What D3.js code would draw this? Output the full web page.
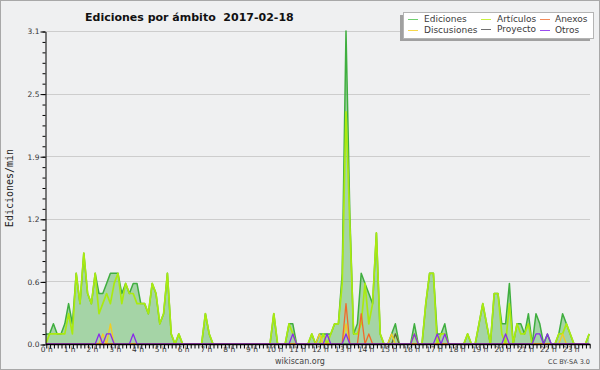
<!DOCTYPE html>
<html><head><meta charset="utf-8">
<script src="https://cdn.jsdelivr.net/npm/d3@7"></script>
<style>
html,body{margin:0;padding:0;background:#eff0f1;}
svg{display:block;font-family:"DejaVu Sans",sans-serif;}
</style>
</head><body>
<svg id="c" width="600" height="370"></svg>
<script>
const chartTitle = "Ediciones por ámbito  2017-02-18";
const yTitle = "Ediciones/min";
const footer = "wikiscan.org";
const license = "CC BY-SA 3.0";
const yTickValues = [0, 0.62, 1.24, 1.86, 2.48, 3.1];
const yTickLabels = ["0.0", "0.6", "1.2", "1.9", "2.5", "3.1"];
const hourLabels = ["0 h","1 h","2 h","3 h","4 h","5 h","6 h","7 h","8 h","9 h","10 h","11 h",
  "12 h","13 h","14 h","15 h","16 h","17 h","18 h","19 h","20 h","21 h","22 h","23 h"];
const seriesNames = ["Ediciones", "Artículos", "Anexos", "Discusiones", "Proyecto", "Otros"];

// one value per 10 minutes (6 per hour), edits/min
const ediciones = [
  0.1,0.1,0.2,0.1,0.1,0.2,  0.4,0.2,0.7,0.4,0.9,0.5,  0.4,0.7,0.5,0.5,0.6,0.7,  0.7,0.7,0.5,0.6,0.5,0.6,
  0.6,0.4,0.4,0.3,0.6,0.5,  0.2,0.3,0.7,0.1,0,0.1,    0,0,0,0,0,0,              0.3,0.1,0,0,0,0,
  0,0,0,0,0,0,              0,0,0,0,0,0,              0.3,0,0,0,0.2,0.2,        0,0,0,0,0.1,0,
  0.1,0.1,0.1,0.1,0.2,0.2,  0.7,3.1,1.3,0.1,0.2,0.7,  0.6,0.5,0.4,1.1,0.1,0,    0,0.1,0.2,0,0,0,
  0,0.2,0,0,0.4,0.7,        0.7,0.1,0.1,0.2,0,0,      0,0,0,0.1,0,0,            0.2,0.4,0.2,0,0.5,0.5,
  0.2,0.2,0.6,0,0.2,0.2,    0.1,0.3,0,0.3,0.2,0,      0.1,0,0,0.1,0.3,0.2,      0.1,0,0,0,0,0.1
];
const articulos = [
  0,0.1,0.1,0.1,0.1,0.1,    0.3,0.1,0.7,0.4,0.9,0.5,  0.4,0.7,0.3,0.4,0.5,0.4,  0.6,0.7,0.4,0.6,0.5,0.5,
  0.4,0.4,0.4,0.3,0.6,0.5,  0.2,0.3,0.7,0.1,0,0.1,    0,0,0,0,0,0,              0.3,0.1,0,0,0,0,
  0,0,0,0,0,0,              0,0,0,0,0,0,              0.3,0,0,0,0.2,0.1,        0,0,0,0,0.1,0,
  0,0.1,0,0.1,0.2,0.2,      0.6,2.3,1.2,0.1,0.1,0.2,  0.6,0.2,0.4,1.1,0.1,0,    0,0,0.1,0,0,0,
  0,0.1,0,0,0.4,0.7,        0.7,0,0.1,0.1,0,0,        0,0,0,0.1,0,0,            0.2,0.4,0.2,0,0.5,0.5,
  0.1,0,0.4,0,0.2,0.1,      0.1,0.2,0,0,0,0,          0,0,0,0.1,0.1,0.2,        0.1,0,0,0,0,0.1
];
const anexos = [
  0,0,0,0,0,0, 0,0,0,0,0,0, 0,0,0,0,0,0, 0,0,0,0,0,0,
  0,0,0,0,0,0, 0,0,0,0,0,0, 0,0,0,0,0,0, 0,0,0,0,0,0,
  0,0,0,0,0,0, 0,0,0,0,0,0, 0,0,0,0,0,0, 0,0,0,0,0,0,
  0,0,0,0,0,0, 0,0.4,0,0,0,0.3, 0,0.1,0,0,0,0, 0,0,0,0,0,0,
  0,0,0,0,0,0, 0,0,0,0,0,0, 0,0,0,0,0,0, 0,0,0,0,0,0,
  0,0,0,0,0,0, 0,0,0,0,0,0, 0,0,0,0,0,0, 0,0,0,0,0,0
];
const discusiones = [
  0,0,0,0,0,0, 0,0,0,0,0,0, 0,0,0,0.1,0,0.2, 0,0,0,0,0,0,
  0,0,0,0,0,0, 0,0,0,0,0,0, 0,0,0,0,0,0, 0,0,0,0,0,0,
  0,0,0,0,0,0, 0,0,0,0,0,0, 0,0,0,0,0,0, 0,0,0,0,0,0,
  0.1,0,0,0,0,0, 0,0.2,0,0,0,0, 0,0,0,0,0,0, 0,0.1,0,0,0,0,
  0,0,0,0,0,0, 0,0,0,0,0,0, 0,0,0,0,0,0, 0,0,0,0,0,0,
  0,0,0,0,0,0, 0,0,0,0,0,0, 0,0,0,0,0.1,0, 0,0,0,0,0,0
];
const proyecto = [
  0,0,0,0,0,0, 0,0,0,0,0,0, 0,0,0,0,0,0, 0,0,0,0,0,0,
  0,0,0,0,0,0, 0,0,0,0,0,0, 0,0,0,0,0,0, 0,0,0,0,0,0,
  0,0,0,0,0,0, 0,0,0,0,0,0, 0,0,0,0,0,0, 0,0,0,0,0,0,
  0,0,0,0,0,0, 0,0,0,0,0,0, 0,0,0,0,0,0, 0,0,0.1,0,0,0,
  0,0,0,0,0,0, 0,0,0,0,0,0, 0,0,0,0,0,0, 0,0,0,0,0,0,
  0,0,0,0,0,0, 0,0,0,0,0,0, 0,0,0,0,0,0, 0,0,0,0,0,0
];
const otros = [
  0,0,0,0,0,0, 0,0,0,0,0,0, 0,0,0.1,0,0.1,0.1, 0,0,0,0,0,0.1,
  0,0,0,0,0,0, 0,0,0,0,0,0, 0,0,0,0,0,0, 0,0,0,0,0,0,
  0,0,0,0,0,0, 0,0,0,0,0,0, 0,0,0,0,0,0.1, 0,0,0,0,0,0,
  0,0,0.1,0,0,0, 0,0.1,0,0,0,0, 0,0,0,0,0,0, 0,0,0,0,0,0,
  0,0.1,0,0,0,0, 0,0.1,0,0.1,0,0, 0,0,0,0,0,0, 0,0,0,0,0,0,
  0,0.1,0,0,0,0, 0,0,0,0.1,0.1,0, 0.1,0,0,0,0,0, 0,0,0,0,0,0
];

const lineColors = {
  "Ediciones": "#3fae3f", "Artículos": "#aaea10", "Anexos": "#f26a2a",
  "Discusiones": "#f2cc22", "Proyecto": "#555555", "Otros": "#8a2be8"
};
const legendColors = {
  "Ediciones": "#6fcf6f", "Artículos": "#c8f040", "Anexos": "#f28a5a",
  "Discusiones": "#f8d84a", "Proyecto": "#707070", "Otros": "#9a4cf0"
};
const seriesData = {
  "Ediciones": ediciones, "Artículos": articulos, "Anexos": anexos,
  "Discusiones": discusiones, "Proyecto": proyecto, "Otros": otros
};

const svg = d3.select("#c");
const W = 600, H = 370;
const pLeft = 46, pRight = 590, pTop = 31, pBottom = 344;

svg.append("rect").attr("x", 0.5).attr("y", 0.5).attr("width", W - 1).attr("height", H - 1)
  .attr("fill", "#eff0f1").attr("stroke", "#a8a8a8");

const x = d3.scaleLinear().domain([0, 24]).range([45.8, 45.8 + 24 * 22.8]);
const y = d3.scaleLinear().domain([0, 3.1]).range([pBottom, pTop]);
const xi = i => x(i / 6);

// gridlines
svg.append("g").selectAll("line").data(yTickValues.slice(1)).join("line")
  .attr("x1", pLeft).attr("x2", pRight)
  .attr("y1", d => Math.round(y(d)) + 0.5).attr("y2", d => Math.round(y(d)) + 0.5)
  .attr("stroke", "#cdcdcd").attr("stroke-width", 1);

svg.append("defs").append("clipPath").attr("id", "plot")
  .append("rect").attr("x", pLeft).attr("y", pTop - 2).attr("width", pRight - pLeft + 2).attr("height", pBottom - pTop + 2);

const plot = svg.append("g").attr("clip-path", "url(#plot)");

const area = d3.area().x((d, i) => xi(i)).y0(y(0)).y1(d => y(d));
plot.append("path").datum(ediciones).attr("d", area)
  .attr("fill", "#3fae3f").attr("fill-opacity", 0.42);

const line = d3.line().x((d, i) => xi(i)).y(d => y(d));
const drawOrder = ["Ediciones", "Artículos", "Proyecto", "Discusiones", "Anexos", "Otros"];
const widths = {"Ediciones": 1.5, "Artículos": 1.7, "Anexos": 1.3, "Discusiones": 1.3, "Proyecto": 1.2, "Otros": 1.3};
drawOrder.forEach(name => {
  plot.append("path").datum(seriesData[name]).attr("d", line)
    .attr("fill", "none").attr("stroke", lineColors[name])
    .attr("stroke-width", widths[name]).attr("stroke-linejoin", "round");
});

// x axis
const tenMin = d3.range(0, 144).map(i => i / 6);
const xAxis = d3.axisBottom(x).tickValues(tenMin).tickSize(4).tickSizeOuter(0)
  .tickFormat(d => Math.abs(d - Math.round(d)) < 1e-6 ? hourLabels[Math.round(d)] : "");
const gx = svg.append("g").attr("transform", `translate(0.5,${pBottom + 0.5})`).call(xAxis);
gx.select(".domain").remove();
gx.selectAll(".tick line").attr("stroke", "#000");
gx.selectAll(".tick text").attr("font-size", 7.5).attr("fill", "#333")
  .attr("font-family", "DejaVu Sans").attr("dy", "0.55em").attr("y", 3);
gx.append("line").attr("x1", pLeft - 0.5).attr("x2", pRight).attr("y1", 0).attr("y2", 0)
  .attr("stroke", "#000").attr("stroke-width", 1.4);

// y axis
const minorVals = d3.range(0, 31).map(k => k * 3.1 / 30);
const gyMinor = svg.append("g").attr("transform", `translate(${pLeft - 0.5},0.5)`)
  .call(d3.axisLeft(y).tickValues(minorVals).tickSize(3).tickSizeOuter(0).tickFormat(""));
gyMinor.select(".domain").remove();
const gy = svg.append("g").attr("transform", `translate(${pLeft - 0.5},0.5)`)
  .call(d3.axisLeft(y).tickValues(yTickValues).tickSize(5).tickSizeOuter(0)
    .tickFormat((d, i) => yTickLabels[i]));
gy.select(".domain").attr("stroke", "#000");
gy.selectAll(".tick text").attr("font-size", 7.5).attr("fill", "#333")
  .attr("font-family", "DejaVu Sans").attr("x", -6);

// titles
svg.append("text").attr("x", 85).attr("y", 21).attr("font-size", 11).attr("font-weight", "bold")
  .attr("fill", "#111").style("white-space", "pre").text(chartTitle);
svg.append("text").attr("transform", "translate(13,188) rotate(-90)").attr("text-anchor", "middle")
  .attr("font-family", "DejaVu Sans Mono").attr("font-size", 10).attr("fill", "#222").text(yTitle);
svg.append("text").attr("x", 300).attr("y", 364).attr("text-anchor", "middle")
  .attr("font-size", 8).attr("fill", "#444").text(footer);
svg.append("text").attr("x", 590).attr("y", 364).attr("text-anchor", "end")
  .attr("font-size", 6.5).attr("fill", "#444").text(license);

// legend
const lg = svg.append("g");
lg.append("rect").attr("x", 400).attr("y", 15).attr("width", 190).attr("height", 26).attr("fill", "#a0a0a0");
lg.append("rect").attr("x", 403.5).attr("y", 12.5).attr("width", 190).attr("height", 26)
  .attr("fill", "#fff").attr("stroke", "#b4b4b4");
const legendPos = [
  {n: "Ediciones", lx: 408, tx: 424, y: 19}, {n: "Artículos", lx: 481, tx: 497, y: 19}, {n: "Anexos", lx: 540, tx: 555, y: 19},
  {n: "Discusiones", lx: 408, tx: 424, y: 30}, {n: "Proyecto", lx: 481, tx: 497, y: 29}, {n: "Otros", lx: 540, tx: 555, y: 30}
];
legendPos.forEach(p => {
  lg.append("line").attr("x1", p.lx).attr("x2", p.lx + 10).attr("y1", p.y + 0.5).attr("y2", p.y + 0.5)
    .attr("stroke", legendColors[p.n]).attr("stroke-width", 1);
  lg.append("text").attr("x", p.tx).attr("y", p.y + 3.2).attr("font-size", 9).attr("fill", "#3a3a3a").text(p.n);
});
</script>
</body></html>
